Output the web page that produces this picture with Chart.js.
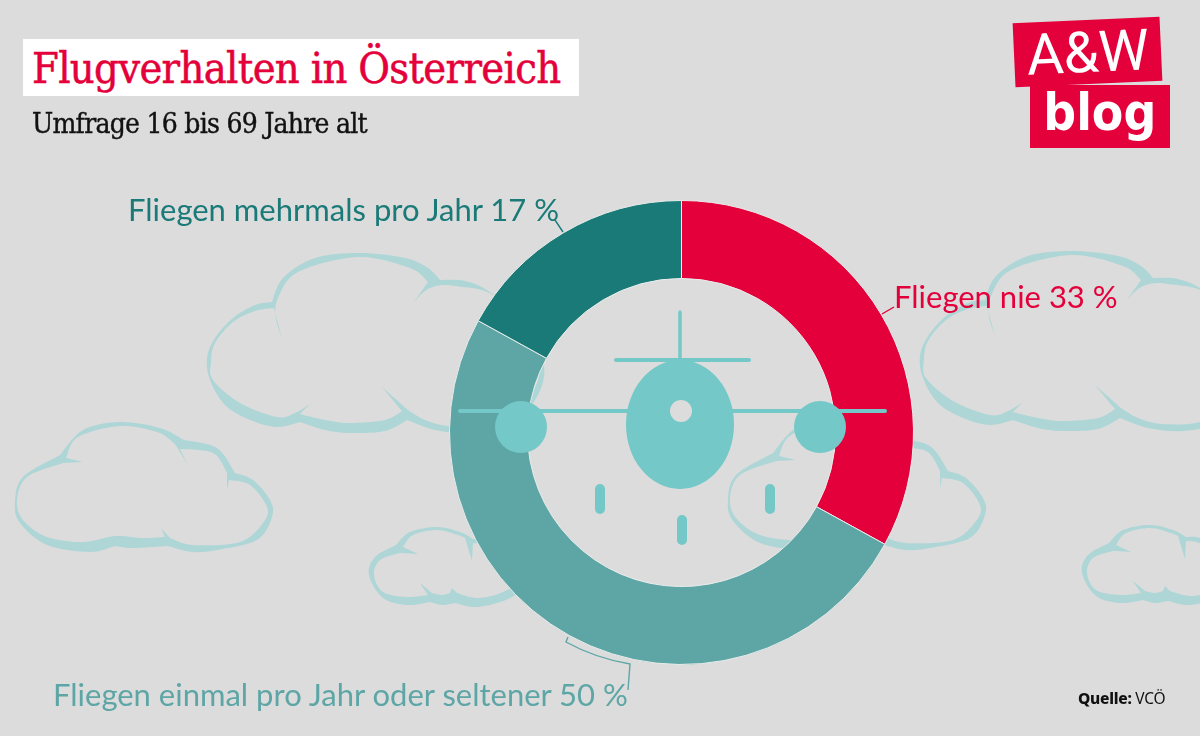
<!DOCTYPE html>
<html lang="de">
<head>
<meta charset="utf-8">
<title>Flugverhalten in Österreich</title>
<script src="https://cdn.jsdelivr.net/npm/chart.js@4/dist/chart.umd.min.js"></script>
<style>
  html, body { margin: 0; padding: 0; background: #dcdcdc; }
  #page { position: relative; width: 1200px; height: 736px; overflow: hidden; }
  #chart { position: absolute; left: 0; top: 0; }
  .txt { position: absolute; white-space: nowrap; line-height: 1; margin: 0; font-weight: 400; }
  #titlebox { position: absolute; left: 23px; top: 39px; width: 556px; height: 57px; background: #fff; }
  #title { left: 32px; top: 43px; font: 400 43px "DejaVu Serif Condensed", "DejaVu Serif", serif; font-stretch: condensed; color: #e4003a; letter-spacing: -0.67px; -webkit-text-stroke: 0.5px #e4003a; }
  #subtitle { left: 32px; top: 107px; font: 400 28px "DejaVu Serif Condensed", "DejaVu Serif", serif; font-stretch: condensed; color: #111; letter-spacing: -0.75px; -webkit-text-stroke: 0.4px #111; }
  .lab { font-family: Lato, sans-serif; font-size: 31px; letter-spacing: 0; }
  #lab0 { left: 894px; top: 281px; color: #e4003a; }
  #lab1 { left: 53px; top: 679px; color: #5ea6a6; }
  #lab2 { left: 128px; top: 194px; color: #1a7a78; }
  #source { left: 1078px; top: 687px; font: 400 15.5px "Noto Sans", sans-serif; color: #111; letter-spacing: -0.25px; }
  #source b { font-weight: 800; }
  .logo { position: absolute; background: #e4003a; color: #fff; text-align: center; }
  #logo1 { left: 1014px; top: 20px; width: 147px; height: 64px; transform: rotate(-2.6deg); font: 400 57px/66px Roboto, sans-serif; letter-spacing: -0.5px; }
  #logo2 { left: 1030px; top: 85px; width: 140px; height: 63px; font: 700 51px/56px "DejaVu Sans", sans-serif; }
  #logo2 span { display: inline-block; transform: scaleX(0.9); }
</style>
</head>
<body>
<div id="page">
  <canvas id="chart" width="1200" height="736"></canvas>
  <div id="titlebox"></div>
  <h1 class="txt" id="title">Flugverhalten in Österreich</h1>
  <div class="txt" id="subtitle">Umfrage 16 bis 69 Jahre alt</div>
  <div class="txt lab" id="lab0"></div>
  <div class="txt lab" id="lab1"></div>
  <div class="txt lab" id="lab2"></div>
  <div class="txt" id="source"><b>Quelle:</b> VCÖ</div>
  <div class="logo" id="logo1">A&amp;W</div>
  <div class="logo" id="logo2"><span>blog</span></div>
</div>
<script>
const categories = ['Fliegen nie', 'Fliegen einmal pro Jahr oder seltener', 'Fliegen mehrmals pro Jahr'];
const shares = [33, 50, 17];
const sliceColors = ['#e4003a', '#5ea6a6', '#1a7a78'];

const BG = '#dcdcdc';
const CLOUD = '#aed6d6';
const PLANE = '#74c8c8';

categories.forEach((name, i) => {
    document.getElementById('lab' + i).textContent = name + ' ' + shares[i] + ' %';
});

// clouds are lists of lobes, each lobe ends on the cusp where the next one starts
const bigCloud = {
    outer: [
        [[272,302],[283,278],[315,258],[360,253],[405,258],[428,268],[440,280]],
        [[440,280],[465,281],[490,292],[525,322],[544,365],[535,400],[505,425],[470,433],[435,430],[407,420]],
        [[407,420],[385,431],[350,433],[325,430],[300,422]],
        [[300,422],[277,427],[250,420],[225,405],[210,380],[207,358],[215,338],[233,318],[255,305],[272,302]]
    ],
    inner: [
        [[282,338],[276,318],[278,298],[298,272],[358,257],[410,268],[428,282]],
        [[428,282],[414,302]],
        [[414,302],[430,288],[455,286],[500,300],[538,365],[525,400],[490,423],[450,426],[425,420],[408,410]],
        [[408,410],[382,387]],
        [[382,387],[402,411]],
        [[402,411],[385,420],[350,423],[325,420],[300,414]],
        [[300,414],[310,404]],
        [[310,404],[295,413],[277,417],[240,403],[213,380],[211,362],[215,343],[233,322],[255,311],[274,308]],
        [[274,308],[282,338]]
    ]
};
const midCloud = {
    outer: [
        [[60,455],[83,430],[120,422],[160,428],[184,440]],
        [[184,440],[217,448],[235,473]],
        [[235,473],[253,480],[270,500],[272,517],[257,540],[217,550],[192,552],[168,546]],
        [[168,546],[133,548],[115,546]],
        [[115,546],[90,552],[47,545],[20,523],[15,502],[23,477],[60,455]]
    ],
    inner: [
        [[66,458],[78,437],[120,426],[157,432],[175,444]],
        [[175,444],[188,465]],
        [[188,465],[180,449]],
        [[180,449],[213,453],[227,473]],
        [[227,473],[227,490]],
        [[227,490],[229,480]],
        [[229,480],[250,485],[267,507],[263,523],[240,542],[193,545],[170,538]],
        [[170,538],[161,528]],
        [[161,528],[165,537]],
        [[165,537],[143,538],[115,536],[83,542],[47,537],[23,520],[17,500],[27,477],[63,463]],
        [[63,463],[83,462]],
        [[83,462],[66,458]]
    ]
};
const smallCloud = {
    outer: [
        [[396,545],[410,532],[437,527],[460,532],[473,539]],
        [[473,539],[490,541],[520,560],[530,580],[510,598],[478,607],[455,603]],
        [[455,603],[442,605],[430,602]],
        [[430,602],[407,605],[383,598],[369,575],[375,557],[396,545]]
    ],
    inner: [
        [[403,547],[413,535],[437,530],[458,535],[465,538]],
        [[465,538],[472,561]],
        [[472,561],[473,543]],
        [[473,543],[490,547],[525,575],[503,592],[478,598],[457,593]],
        [[457,593],[452,588]],
        [[452,588],[450,593]],
        [[450,593],[442,595],[432,593]],
        [[432,593],[420,583]],
        [[420,583],[428,595]],
        [[428,595],[407,597],[383,592],[374,575],[380,560],[400,553]],
        [[400,553],[418,554]],
        [[418,554],[403,547]]
    ]
};

// catmull-rom through one lobe
function addLobe(ctx, pts) {
    for (let i = 0; i < pts.length - 1; i++) {
        const p0 = pts[Math.max(i - 1, 0)], p1 = pts[i], p2 = pts[i + 1], p3 = pts[Math.min(i + 2, pts.length - 1)];
        ctx.bezierCurveTo(p1[0] + (p2[0] - p0[0]) / 6, p1[1] + (p2[1] - p0[1]) / 6,
                          p2[0] - (p3[0] - p1[0]) / 6, p2[1] - (p3[1] - p1[1]) / 6, p2[0], p2[1]);
    }
}

function drawCloud(ctx, cloud, dx, dy) {
    ctx.save();
    ctx.translate(dx, dy);
    ctx.beginPath();
    [cloud.outer, cloud.inner].forEach(contour => {
        ctx.moveTo(contour[0][0][0], contour[0][0][1]);
        contour.forEach(lobe => addLobe(ctx, lobe));
        ctx.closePath();
    });
    ctx.fillStyle = CLOUD;
    ctx.fill('evenodd');
    ctx.restore();
}

function bar(ctx, x1, y1, x2, y2, w) {
    ctx.beginPath();
    ctx.moveTo(x1, y1);
    ctx.lineTo(x2, y2);
    ctx.lineWidth = w;
    ctx.lineCap = 'round';
    ctx.strokeStyle = PLANE;
    ctx.stroke();
}

function drawPlane(ctx) {
    bar(ctx, 680, 312, 680, 362, 3.5);
    bar(ctx, 616, 360, 749, 360, 4);
    bar(ctx, 460, 411, 885, 411, 4);
    ctx.fillStyle = PLANE;
    ctx.beginPath();
    ctx.ellipse(680, 424.5, 54, 64.5, 0, 0, Math.PI * 2);
    ctx.fill();
    ctx.beginPath();
    ctx.arc(521, 427, 26, 0, Math.PI * 2);
    ctx.fill();
    ctx.beginPath();
    ctx.arc(820, 427, 26, 0, Math.PI * 2);
    ctx.fill();
    bar(ctx, 600, 489, 600, 509, 10);
    bar(ctx, 770, 489, 770, 509, 10);
    bar(ctx, 682, 520, 682, 540, 10);
    ctx.fillStyle = BG;
    ctx.beginPath();
    ctx.arc(681, 411, 11, 0, Math.PI * 2);
    ctx.fill();
}

function leader(ctx, color, draw) {
    ctx.beginPath();
    draw();
    ctx.lineWidth = 1.4;
    ctx.lineCap = 'butt';
    ctx.strokeStyle = color;
    ctx.stroke();
}

const artwork = {
    id: 'artwork',
    beforeDatasetsDraw(chart) {
        const ctx = chart.ctx;
        [bigCloud, midCloud, smallCloud].forEach(c => {
            drawCloud(ctx, c, 0, 0);
            drawCloud(ctx, c, 713, -2);
        });
    },
    afterDatasetsDraw(chart) {
        const ctx = chart.ctx;
        drawPlane(ctx);
        leader(ctx, sliceColors[0], () => { ctx.moveTo(894, 307); ctx.lineTo(882, 314); });
        leader(ctx, sliceColors[2], () => { ctx.moveTo(555, 220); ctx.lineTo(563, 232); });
        leader(ctx, sliceColors[1], () => {
            ctx.moveTo(568, 637);
            ctx.lineTo(566, 642);
            ctx.quadraticCurveTo(595, 658, 630, 664);
            ctx.lineTo(628, 690);
        });
    }
};

new Chart(document.getElementById('chart').getContext('2d'), {
    type: 'doughnut',
    data: {
        labels: categories,
        datasets: [{
            data: shares,
            backgroundColor: sliceColors,
            borderColor: '#e8ecea',
            borderWidth: 1
        }]
    },
    options: {
        responsive: false,
        animation: false,
        cutout: '66.4%',
        layout: { padding: { left: 449, right: 286, top: 200, bottom: 71 } },
        plugins: { legend: { display: false }, tooltip: { enabled: false }, title: { display: false } }
    },
    plugins: [artwork]
});
</script>
</body>
</html>
